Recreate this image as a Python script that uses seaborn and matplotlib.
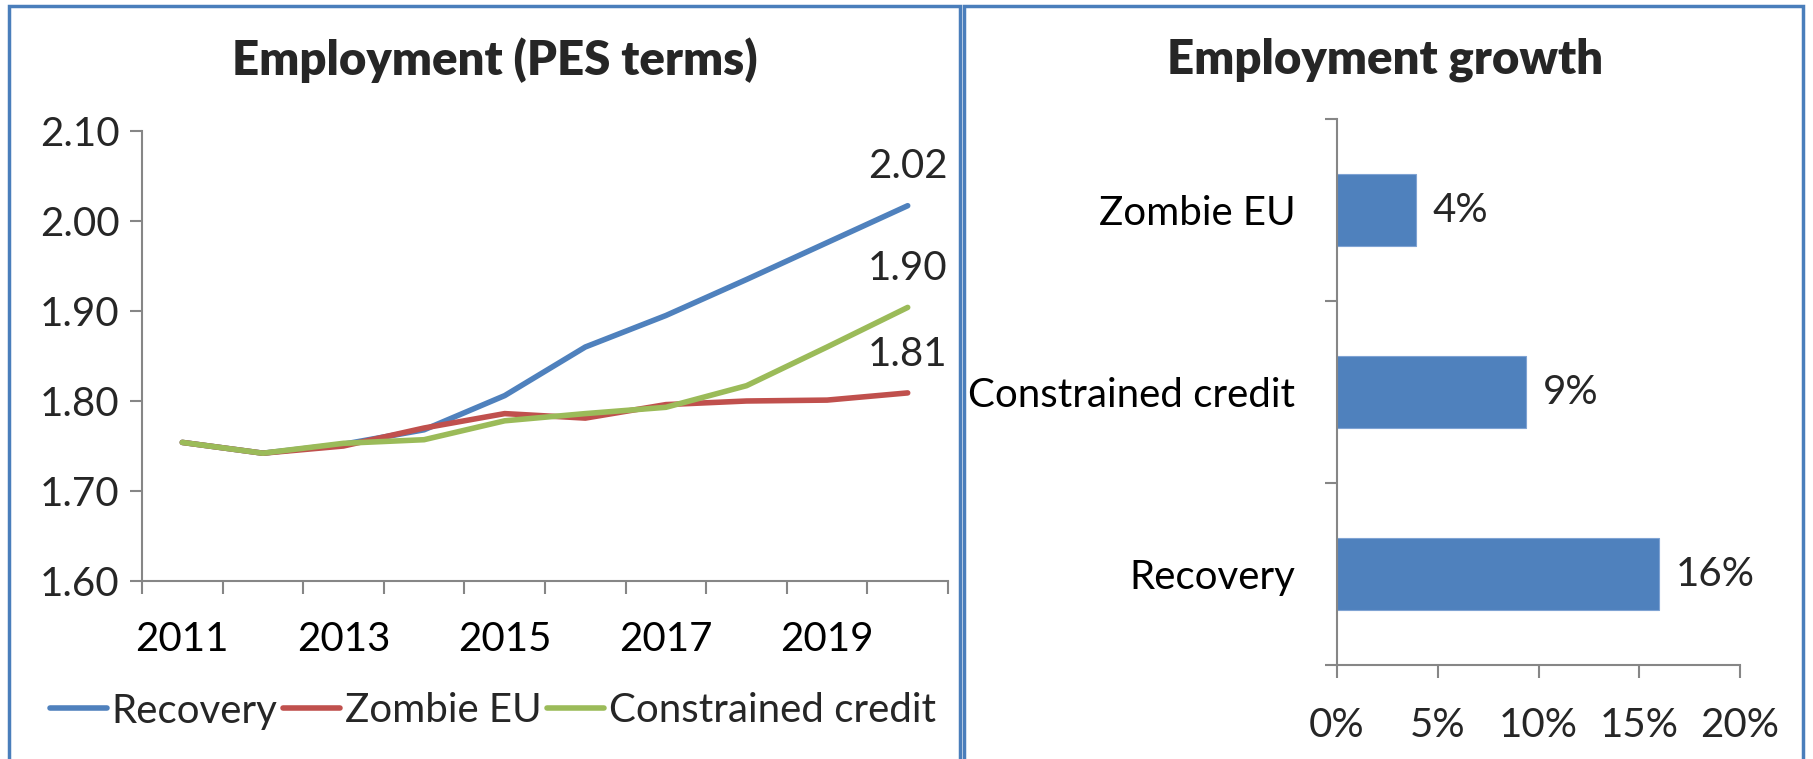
import numpy as np
import pandas as pd
import matplotlib
matplotlib.use("Agg")
import matplotlib.pyplot as plt
from matplotlib.patches import Rectangle
from matplotlib.ticker import FuncFormatter, FixedLocator
import seaborn as sns

# ---- data ----
years = [2011, 2012, 2013, 2014, 2015, 2016, 2017, 2018, 2019, 2020]
recovery = [1.754, 1.742, 1.752, 1.768, 1.806, 1.860, 1.895, 1.935, 1.976, 2.017]
zombie_eu = [1.754, 1.742, 1.750, 1.770, 1.786, 1.781, 1.796, 1.800, 1.801, 1.809]
constrained = [1.754, 1.742, 1.753, 1.757, 1.778, 1.786, 1.793, 1.817, 1.860, 1.904]

scenarios = ["Recovery", "Zombie EU", "Constrained credit"]
growth_cats = ["Zombie EU", "Constrained credit", "Recovery"]
growth_pct = [3.9, 9.4, 16.0]

colors = {"Recovery": "#4F81BD", "Zombie EU": "#C0504D", "Constrained credit": "#9BBB59"}
axis_grey = "#868686"
fs = 29

sns.set_theme(style="white")
plt.rcParams["font.family"] = ["Lato", "DejaVu Sans"]

W, H = 1813, 759
fig = plt.figure(figsize=(W / 100, H / 100), dpi=100)


def box(x0, y0, x1, y1):
    # pixel box (top-left origin) -> figure fraction rect
    return [x0 / W, 1 - y1 / H, (x1 - x0) / W, (y1 - y0) / H]


# panel borders
for x0, x1 in [(9, 960), (964, 1803)]:
    fig.patches.append(Rectangle((x0 / W, -0.05), (x1 - x0) / W, 1.05 - 6 / H,
                                 transform=fig.transFigure, fill=False,
                                 edgecolor="#4A7EBB", linewidth=2.5, zorder=0))

# ---- left: employment lines ----
ax1 = fig.add_axes(box(142, 131, 948, 581))
df = pd.DataFrame({"year": years * 3,
                   "value": recovery + zombie_eu + constrained,
                   "scenario": np.repeat(scenarios, len(years))})
sns.lineplot(data=df, x="year", y="value", hue="scenario", hue_order=scenarios,
             palette=colors, linewidth=4, ax=ax1, legend=False)

ax1.set_xlim(2010.5, 2020.5)
ax1.set_ylim(1.60, 2.10)
ax1.set_yticks(np.arange(1.60, 2.101, 0.10))
ax1.yaxis.set_major_formatter(FuncFormatter(lambda v, _: f"{v:.2f}"))
ax1.set_xticks(years[::2])
ax1.set_xticklabels([str(y) for y in years[::2]])
ax1.xaxis.set_minor_locator(FixedLocator(np.arange(2010.5, 2021, 1.0)))
ax1.tick_params(axis="x", which="major", length=0, pad=29, labelsize=fs, colors="black")
ax1.tick_params(axis="x", which="minor", length=9, width=1.5, color=axis_grey, bottom=True)
ax1.tick_params(axis="y", which="major", length=9, width=1.5, color=axis_grey,
                pad=7, labelsize=fs, left=True)
ax1.set_xlabel("")
ax1.set_ylabel("")
for s in ["top", "right"]:
    ax1.spines[s].set_visible(False)
for s in ["left", "bottom"]:
    ax1.spines[s].set_color(axis_grey)
    ax1.spines[s].set_linewidth(1.5)

for name, series in zip(scenarios, [recovery, zombie_eu, constrained]):
    ax1.annotate(f"{series[-1]:.2f}", (years[-1], series[-1]), xytext=(0, 28),
                 textcoords="offset points", ha="center", va="center", fontsize=fs)

handles = [plt.Line2D([], [], color=colors[n], linewidth=4) for n in scenarios]
fig.legend(handles, scenarios, loc="center", bbox_to_anchor=(493 / W, 1 - 711 / H),
           ncol=3, frameon=False, fontsize=fs, handlelength=1.4, handletextpad=0.12,
           columnspacing=0.15)

fig.text(495 / W, 1 - 60 / H, "Employment (PES terms)", ha="center", va="center",
         fontsize=34, fontweight="heavy")

# ---- right: employment growth bars ----
ax2 = fig.add_axes(box(1337, 119, 1740, 665))
gdf = pd.DataFrame({"scenario": growth_cats, "growth": growth_pct})
sns.barplot(data=gdf, x="growth", y="scenario", order=growth_cats, orient="h",
            color="#4F81BD", saturation=1, width=0.4, edgecolor="#7FA3D3",
            linewidth=0.8, ax=ax2)
ax2.set_xlim(0, 20)
ax2.set_ylim(2.5, -0.5)
ax2.set_xticks([0, 5, 10, 15, 20])
ax2.xaxis.set_major_formatter(FuncFormatter(lambda v, _: f"{v:.0f}%"))
ax2.yaxis.set_minor_locator(FixedLocator([-0.5, 0.5, 1.5, 2.5]))
ax2.tick_params(axis="y", which="major", length=0, pad=30, labelsize=fs, colors="black")
ax2.tick_params(axis="y", which="minor", length=9, width=1.5, color=axis_grey, left=True)
ax2.tick_params(axis="x", which="major", length=9, width=1.5, color=axis_grey,
                pad=21, labelsize=fs, bottom=True)
ax2.set_xlabel("")
ax2.set_ylabel("")
for s in ["top", "right"]:
    ax2.spines[s].set_visible(False)
for s in ["left", "bottom"]:
    ax2.spines[s].set_color(axis_grey)
    ax2.spines[s].set_linewidth(1.5)

ax2.bar_label(ax2.containers[0], labels=[f"{v:.0f}%" for v in growth_pct],
              padding=12, fontsize=fs)

fig.text(1385 / W, 1 - 60 / H, "Employment growth", ha="center", va="center",
         fontsize=34, fontweight="heavy")

fig.savefig("out.png", dpi=100)
